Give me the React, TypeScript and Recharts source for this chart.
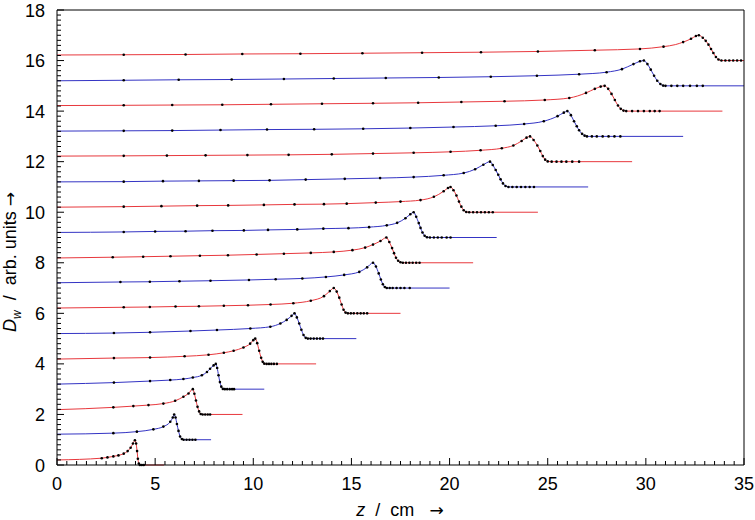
import React from 'react'
import { LineChart, Line, XAxis, YAxis } from 'recharts'

// each curve: [z (cm), relative dose, marker?]  -- plotted at offset + dose
const c0 = [[0,0.2,0],[2.28,0.27,1],[2.57,0.3,1],[2.87,0.34,1],[3.13,0.38,1],[3.4,0.45,1],[3.6,0.55,1],[3.75,0.68,1],[3.87,0.85,1],[3.97,0.98,1],[4.03,0.85,1],[4.08,0.55,1],[4.12,0.25,1],[4.17,0.06,1],[4.22,0,1],[4.32,0,1],[4.42,0,1],[5.45,0,0]]
const c1 = [[0,0.22,0],[2.87,0.26,1],[4.07,0.32,1],[4.91,0.41,1],[5.42,0.52,1],[5.77,0.71,1],[5.9,0.88,1],[5.97,1,1],[6.04,0.88,1],[6.11,0.62,1],[6.19,0.35,1],[6.27,0.13,1],[6.36,0.03,1],[6.45,0,1],[6.6,0,1],[6.75,0,1],[6.9,0,1],[7.05,0,1],[7.85,0,0]]
const c2 = [[0,0.19,0],[2.87,0.28,1],[3.89,0.33,1],[4.66,0.37,1],[5.42,0.43,1],[6.02,0.54,1],[6.44,0.7,1],[6.7,0.83,1],[6.92,1,1],[7.0,0.82,1],[7.08,0.55,1],[7.16,0.3,1],[7.24,0.12,1],[7.32,0.02,1],[7.42,0,1],[7.55,0,1],[7.68,0,1],[7.8,0,1],[9.45,0,0]]
const c3 = [[0,0.2,0],[2.9,0.26,1],[4.74,0.32,1],[5.77,0.36,1],[6.44,0.4,1],[6.92,0.46,1],[7.38,0.55,1],[7.64,0.68,1],[7.8,0.81,1],[7.98,0.94,1],[8.09,1,1],[8.16,0.84,1],[8.23,0.55,1],[8.3,0.28,1],[8.37,0.1,1],[8.45,0.01,1],[8.55,0,1],[8.67,0,1],[8.8,0,1],[8.92,0,1],[9.02,0,1],[10.56,0,0]]
const c4 = [[0,0.19,0],[2.9,0.23,1],[4.74,0.25,1],[6.5,0.3,1],[7.72,0.36,1],[8.5,0.44,1],[9.0,0.52,1],[9.5,0.65,1],[9.84,0.8,1],[10.0,0.94,1],[10.1,1,1],[10.2,0.82,1],[10.3,0.52,1],[10.4,0.24,1],[10.48,0.08,1],[10.56,0.01,1],[10.68,0,1],[10.8,0,1],[10.92,0,1],[11.05,0,1],[11.2,0,1],[13.2,0,0]]
const c5 = [[0,0.2,0],[2.9,0.22,1],[4.74,0.25,1],[6.8,0.3,1],[8.15,0.34,1],[9.85,0.4,1],[10.87,0.47,1],[11.38,0.6,1],[11.7,0.74,1],[11.95,0.9,1],[12.1,1,1],[12.22,0.84,1],[12.34,0.6,1],[12.45,0.35,1],[12.56,0.14,1],[12.67,0.03,1],[12.78,0,1],[12.92,0,1],[13.08,0,1],[13.24,0,1],[13.4,0,1],[13.55,0,1],[15.25,0,0]]
const c6 = [[0,0.21,0],[3.4,0.24,1],[4.73,0.25,1],[6.04,0.27,1],[7.23,0.28,1],[8.5,0.3,1],[9.73,0.32,1],[10.88,0.35,1],[12.04,0.4,1],[12.93,0.5,1],[13.6,0.68,1],[13.9,0.88,1],[14.1,1,1],[14.25,0.86,1],[14.38,0.62,1],[14.5,0.35,1],[14.6,0.14,1],[14.7,0.03,1],[14.82,0,1],[14.97,0,1],[15.12,0,1],[15.3,0,1],[15.47,0,1],[15.63,0,1],[15.8,0,1],[17.5,0,0]]
const c7 = [[0,0.21,0],[3.23,0.24,1],[4.73,0.25,1],[6.24,0.27,1],[7.82,0.29,1],[9.78,0.32,1],[11.14,0.35,1],[12.5,0.38,1],[13.7,0.44,1],[14.63,0.52,1],[15.4,0.64,1],[15.8,0.82,1],[16.1,1,1],[16.25,0.85,1],[16.39,0.58,1],[16.5,0.34,1],[16.6,0.15,1],[16.7,0.04,1],[16.8,0,1],[16.95,0,1],[17.1,0,1],[17.3,0,1],[17.5,0,1],[17.7,0,1],[17.97,0,1],[20.0,0,0]]
const c8 = [[0,0.19,0],[2.84,0.22,1],[4.39,0.24,1],[5.78,0.26,1],[7.28,0.28,1],[8.71,0.3,1],[10.17,0.33,1],[11.56,0.36,1],[12.93,0.39,1],[14.1,0.43,1],[15.05,0.5,1],[15.7,0.6,1],[16.1,0.72,1],[16.48,0.86,1],[16.78,1,1],[16.93,0.82,1],[17.07,0.58,1],[17.17,0.38,1],[17.27,0.2,1],[17.38,0.08,1],[17.5,0.02,1],[17.62,0,1],[17.78,0,1],[17.95,0,1],[18.12,0,1],[18.3,0,1],[18.47,0,1],[21.2,0,0]]
const c9 = [[0,0.2,0],[3.4,0.22,1],[5.0,0.24,1],[6.55,0.25,1],[7.92,0.27,1],[9.52,0.28,1],[10.75,0.3,1],[12.24,0.32,1],[13.57,0.35,1],[14.85,0.37,1],[15.9,0.41,1],[16.8,0.48,1],[17.33,0.58,1],[17.75,0.76,1],[18.0,0.92,1],[18.17,1,1],[18.3,0.82,1],[18.43,0.57,1],[18.52,0.38,1],[18.62,0.2,1],[18.73,0.07,1],[18.85,0.01,1],[19.0,0,1],[19.2,0,1],[19.4,0,1],[19.6,0,1],[19.85,0,1],[20.05,0,1],[22.4,0,0]]
const c10 = [[0,0.2,0],[3.4,0.22,1],[5.32,0.24,1],[7.14,0.26,1],[8.72,0.27,1],[10.54,0.29,1],[12.1,0.31,1],[13.6,0.32,1],[14.76,0.34,1],[16.24,0.38,1],[17.5,0.42,1],[18.52,0.48,1],[19.2,0.61,1],[19.7,0.83,1],[19.92,0.96,1],[20.05,1,1],[20.2,0.87,1],[20.35,0.66,1],[20.48,0.42,1],[20.6,0.22,1],[20.72,0.08,1],[20.85,0.01,1],[21.0,0,1],[21.2,0,1],[21.4,0,1],[21.6,0,1],[21.8,0,1],[22.0,0,1],[22.2,0,1],[24.5,0,0]]
const c11 = [[0,0.2,0],[3.4,0.21,1],[5.4,0.23,1],[7.23,0.24,1],[9.0,0.25,1],[10.83,0.26,1],[12.67,0.29,1],[14.66,0.32,1],[16.46,0.35,1],[18.17,0.39,1],[19.7,0.46,1],[20.72,0.55,1],[21.3,0.7,1],[21.72,0.88,1],[22.06,1,1],[22.2,0.87,1],[22.35,0.67,1],[22.48,0.48,1],[22.6,0.3,1],[22.72,0.14,1],[22.85,0.04,1],[23.0,0,1],[23.2,0,1],[23.42,0,1],[23.64,0,1],[23.86,0,1],[24.08,0,1],[24.3,0,1],[27.06,0,0]]
const c12 = [[0,0.22,0],[3.4,0.23,1],[5.6,0.24,1],[7.57,0.25,1],[9.7,0.26,1],[11.8,0.27,1],[14.0,0.29,1],[16.1,0.32,1],[18.17,0.35,1],[20.05,0.39,1],[21.58,0.45,1],[22.66,0.53,1],[23.25,0.64,1],[23.67,0.82,1],[23.92,0.95,1],[24.1,1,1],[24.28,0.86,1],[24.47,0.64,1],[24.62,0.42,1],[24.75,0.22,1],[24.87,0.08,1],[25.0,0.01,1],[25.2,0,1],[25.45,0,1],[25.7,0,1],[25.95,0,1],[26.25,0,1],[26.6,0,1],[29.3,0,0]]
const c13 = [[0,0.21,0],[3.4,0.22,1],[5.87,0.23,1],[8.33,0.25,1],[10.7,0.27,1],[13.1,0.28,1],[15.6,0.3,1],[18.0,0.33,1],[20.2,0.37,1],[22.35,0.42,1],[23.8,0.49,1],[24.8,0.6,1],[25.5,0.8,1],[25.82,0.94,1],[26.0,1,1],[26.18,0.84,1],[26.34,0.6,1],[26.48,0.4,1],[26.6,0.24,1],[26.75,0.1,1],[26.88,0.03,1],[27.0,0,1],[27.25,0,1],[27.5,0,1],[27.8,0,1],[28.1,0,1],[28.4,0,1],[28.7,0,1],[31.9,0,0]]
const c14 = [[0,0.22,0],[3.4,0.23,1],[5.87,0.24,1],[8.42,0.25,1],[10.9,0.27,1],[13.5,0.29,1],[16.1,0.31,1],[18.4,0.33,1],[20.6,0.36,1],[22.8,0.39,1],[24.85,0.44,1],[26.1,0.52,1],[26.95,0.72,1],[27.4,0.88,1],[27.7,0.97,1],[27.9,1,1],[28.08,0.88,1],[28.25,0.68,1],[28.42,0.44,1],[28.58,0.22,1],[28.72,0.09,1],[28.86,0.02,1],[29.0,0,1],[29.3,0,1],[29.6,0,1],[29.9,0,1],[30.2,0,1],[30.45,0,1],[30.7,0,1],[33.9,0,0]]
const c15 = [[0,0.2,0],[3.4,0.22,1],[6.2,0.24,1],[8.9,0.25,1],[11.56,0.27,1],[14.1,0.29,1],[16.75,0.31,1],[19.45,0.33,1],[22.1,0.36,1],[24.45,0.4,1],[26.6,0.46,1],[28.0,0.54,1],[28.78,0.66,1],[29.37,0.86,1],[29.7,0.97,1],[29.9,1,1],[30.08,0.86,1],[30.25,0.64,1],[30.42,0.4,1],[30.58,0.2,1],[30.74,0.07,1],[30.88,0.01,1],[31.0,0,1],[31.3,0,1],[31.6,0,1],[31.9,0,1],[32.25,0,1],[32.6,0,1],[32.9,0,1],[35,0,0]]
const c16 = [[0,0.22,0],[3.4,0.23,1],[6.55,0.24,1],[9.44,0.26,1],[12.4,0.27,1],[15.56,0.29,1],[18.6,0.31,1],[21.6,0.33,1],[24.5,0.36,1],[27.4,0.41,1],[29.7,0.46,1],[30.9,0.55,1],[31.5,0.63,0],[31.9,0.73,1],[32.3,0.86,1],[32.55,0.97,1],[32.7,1,1],[32.9,0.9,1],[33.05,0.78,1],[33.19,0.63,1],[33.32,0.46,1],[33.44,0.3,1],[33.57,0.14,1],[33.7,0.04,1],[33.85,0,1],[34.05,0,1],[34.25,0,1],[34.45,0,1],[34.65,0,1],[34.85,0,1],[35,0,0]]

const curves = [c0, c1, c2, c3, c4, c5, c6, c7, c8, c9, c10, c11, c12, c13, c14, c15, c16]

const RED = '#e8383d'
const BLUE = '#3434c4'

// axis ticks
const xMajor = [0, 5, 10, 15, 20, 25, 30, 35]
const xTicks = Array.from({ length: 71 }, (_, i) => i * 0.5)
const yMajor = [0, 2, 4, 6, 8, 10, 12, 14, 16, 18]
const yTicks = Array.from({ length: 91 }, (_, i) => Math.round(i * 2) / 10)

const FONT = '"Liberation Sans", Arial, Helvetica, sans-serif'
const ARROW = '"DejaVu Sans", sans-serif'
const isMajor = (v: number, list: number[]) => list.some((m) => Math.abs(m - v) < 1e-6)

const BottomTick = (p: any) => {
  const v = p.payload.value
  const major = isMajor(v, xMajor)
  return (
    <g>
      <line x1={p.x} x2={p.x} y1={p.y} y2={p.y - (major ? 7 : 4)} stroke="#000" />
      {major && (
        <text x={p.x} y={p.y + 25} textAnchor="middle" fontSize={18} fontFamily={FONT} fill="#000">
          {v}
        </text>
      )}
    </g>
  )
}

const TopTick = (p: any) => {
  const major = isMajor(p.payload.value, xMajor)
  return <line x1={p.x} x2={p.x} y1={p.y} y2={p.y + (major ? 7 : 4)} stroke="#000" />
}

const LeftTick = (p: any) => {
  const v = p.payload.value
  const major = isMajor(v, yMajor)
  return (
    <g>
      <line x1={p.x} x2={p.x + (major ? 7 : 4)} y1={p.y} y2={p.y} stroke="#000" />
      {major && (
        <text x={p.x - 12} y={p.y + 6.5} textAnchor="end" fontSize={18} fontFamily={FONT} fill="#000">
          {v}
        </text>
      )}
    </g>
  )
}

const RightTick = (p: any) => {
  const major = isMajor(p.payload.value, yMajor)
  return <line x1={p.x} x2={p.x - (major ? 7 : 4)} y1={p.y} y2={p.y} stroke="#000" />
}

const renderDot = (p: any) => {
  const k = `d${p.index}`
  if (!p.payload.m) return <g key={k} />
  return <circle key={k} cx={p.cx} cy={p.cy} r={1.3} fill="#000" />
}

export default function App() {
  return (
    <div style={{ position: 'absolute', left: 0, top: 0, width: 755, height: 520, background: '#fff', overflow: 'hidden' }}>
      <LineChart width={755} height={520} margin={{ top: 0, right: 0, bottom: 0, left: 0 }}>
        <XAxis xAxisId="b" dataKey="z" type="number" domain={[0, 35]} ticks={xTicks} interval={0}
          height={55} tickSize={0} tickMargin={0} tickLine={false} stroke="#000" tick={BottomTick} />
        <XAxis xAxisId="t" orientation="top" dataKey="z" type="number" domain={[0, 35]} ticks={xTicks} interval={0}
          height={10} tickSize={0} tickMargin={0} tickLine={false} stroke="#000" tick={TopTick} />
        <YAxis yAxisId="l" type="number" domain={[0, 18]} ticks={yTicks} interval={0}
          width={57} tickSize={0} tickMargin={0} tickLine={false} stroke="#000" tick={LeftTick} />
        <YAxis yAxisId="r" orientation="right" type="number" domain={[0, 18]} ticks={yTicks} interval={0}
          width={11} tickSize={0} tickMargin={0} tickLine={false} stroke="#000" tick={RightTick} />
        {curves.map((c, k) => (
          <Line
            key={k}
            xAxisId="b"
            yAxisId="l"
            data={c.map(([z, d, m]) => ({ z, y: k + d, m }))}
            dataKey="y"
            type="monotone"
            stroke={k % 2 === 0 ? RED : BLUE}
            strokeWidth={1}
            dot={renderDot}
            activeDot={false}
            isAnimationActive={false}
          />
        ))}
      </LineChart>
      <div style={{ position: 'absolute', left: 300, width: 200, top: 502, lineHeight: '16px', textAlign: 'center', fontFamily: FONT, fontSize: 18, whiteSpace: 'pre' }}>
        <i>z</i>{'  /  cm   '}<span style={{ fontFamily: ARROW, fontSize: 17 }}>{'\u2192'}</span>
      </div>
      <div style={{ position: 'absolute', left: 12, top: 262, transform: 'translate(-50%, -50%) rotate(-90deg)', fontFamily: FONT, fontSize: 18, whiteSpace: 'pre' }}>
        <i>D</i><sub style={{ fontSize: 12 }}><i>w</i></sub>{'  /  arb. units '}<span style={{ fontFamily: ARROW, fontSize: 17 }}>{'\u2192'}</span>
      </div>
    </div>
  )
}
